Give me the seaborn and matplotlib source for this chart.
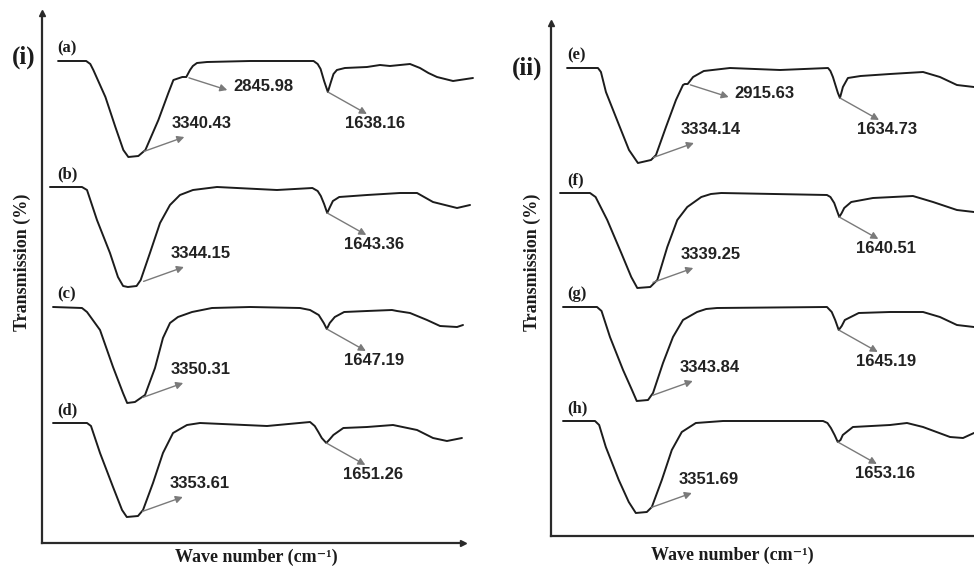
import numpy as np
import matplotlib
matplotlib.use("Agg")
import matplotlib.pyplot as plt
import seaborn as sns

# FTIR spectra: wavenumber (cm-1) and relative transmission for each sample
wn_a = [3940, 3700, 3665, 3639, 3536, 3451, 3383, 3340.43, 3255, 3195, 3084, 2999, 2956, 2880,
        2845.98, 2814, 2790, 2755, 2669, 2302, 1876, 1760, 1725, 1700, 1670, 1638.16, 1612, 1590,
        1561, 1493, 1304, 1193, 1108, 937, 852, 780, 707, 570, 400]
t_a = [100, 100, 97, 91, 64, 34, 11, 4, 5, 11, 41, 68, 81, 84,
       84, 91, 95, 98, 99, 100, 100, 100, 97, 92, 80, 69, 79, 87,
       91, 93, 94, 96, 95, 97, 93, 88, 84, 80, 83]

wn_b = [4009, 3736, 3693, 3608, 3497, 3429, 3385, 3344.15, 3270, 3235, 3156, 3070, 2985, 2900,
        2789, 2584, 2072, 1770, 1725, 1698, 1670, 1643.36, 1620, 1595, 1541, 1304, 1023, 877,
        741, 536, 425]
t_b = [100, 100, 97, 67, 34, 10, 1, 0, 1, 7, 34, 64, 82, 92,
       97, 100, 97, 99, 96, 91, 83, 74, 80, 86, 90, 92, 94, 94,
       85, 79, 82]

wn_c = [3983, 3736, 3693, 3582, 3471, 3386, 3350.31, 3284, 3198, 3113, 3045, 2985, 2917, 2797,
        2627, 2302, 1876, 1790, 1716, 1673, 1647.19, 1622, 1579, 1499, 1304, 1091, 1048, 937,
        792, 681, 536, 485]
t_c = [100, 99, 95, 77, 40, 14, 4, 5, 12, 39, 69, 84, 90, 95,
       99, 100, 99, 97, 92, 84, 78, 84, 90, 95, 96, 97, 96, 94,
       87, 81, 80, 82]

wn_d = [3983, 3693, 3659, 3582, 3471, 3394, 3353.61, 3258, 3215, 3130, 3045, 2959, 2900, 2840,
        2729, 2157, 1790, 1750, 1719, 1690, 1651.26, 1620, 1591, 1506, 1304, 1082, 877, 741,
        622, 494]
t_d = [100, 100, 97, 70, 36, 13, 6, 7, 13, 40, 70, 90, 94, 98,
       100, 97, 101, 97, 91, 85, 80, 84, 88, 95, 96, 98, 93, 85,
       82, 85]

wn_e = [3930, 3670, 3645, 3603, 3493, 3409, 3334.14, 3224, 3182, 3098, 3014, 2955, 2940,
        2915.63, 2870, 2780, 2560, 2139, 1735, 1715, 1694, 1652, 1634.73, 1610, 1568, 1461,
        1214, 936, 794, 651, 508]
t_e = [100, 100, 96, 76, 43, 18, 5, 8, 13, 41, 68, 83, 84,
       84, 91, 97, 100, 98, 100, 97, 91, 75, 70, 81, 90, 92,
       94, 96, 91, 83, 81]

wn_f = [3989, 3737, 3690, 3592, 3474, 3390, 3339.25, 3230, 3171, 3087, 3003, 2919, 2801, 2720,
        2633, 1744, 1715, 1683, 1662, 1640.51, 1620, 1599, 1540, 1357, 1021, 852, 651, 508]
t_f = [100, 100, 96, 73, 40, 16, 5, 6, 13, 46, 73, 86, 96, 99,
       100, 98, 96, 90, 83, 76, 80, 85, 91, 95, 97, 91, 83, 81]

wn_g = [3964, 3678, 3640, 3569, 3459, 3384, 3343.84, 3249, 3207, 3123, 3039, 2955, 2837, 2760,
        2669, 1744, 1704, 1675, 1645.19, 1620, 1594, 1477, 1214, 936, 794, 651, 508]
t_g = [100, 100, 96, 70, 37, 17, 6, 7, 14, 44, 70, 87, 95, 98,
       99, 100, 95, 87, 77, 81, 87, 94, 95, 95, 90, 82, 80]

wn_h = [3964, 3695, 3660, 3604, 3495, 3411, 3351.69, 3259, 3217, 3133, 3049, 2965, 2847, 2618,
        1777, 1740, 1711, 1680, 1653.16, 1630, 1611, 1526, 1214, 1071, 936, 709, 600, 508]
t_h = [100, 100, 96, 74, 41, 19, 8, 9, 14, 41, 71, 89, 98, 100,
       100, 98, 93, 86, 79, 81, 86, 94, 96, 98, 94, 84, 83, 88]

names_i = ["(a)", "(b)", "(c)", "(d)"]
names_ii = ["(e)", "(f)", "(g)", "(h)"]
shoulders = {"(a)": 2845.98, "(e)": 2915.63}

sns.set_theme(style="white")
plt.rcParams["font.family"] = ["Liberation Sans", "DejaVu Sans"]
SERIF = ["Liberation Serif", "DejaVu Serif"]
INK = "#1c1c1c"
GREY = "#7a7a7a"

fig = plt.figure(figsize=(9.74, 5.67), dpi=100)
fig.patch.set_facecolor("white")
ax1 = fig.add_axes([42 / 974, 24 / 567, 421 / 974, 530 / 567])
ax2 = fig.add_axes([551 / 974, 31 / 567, 429 / 974, 513 / 567])

panels = [
    (ax1, names_i, [(wn_a, t_a), (wn_b, t_b), (wn_c, t_c), (wn_d, t_d)],
     [382, 256, 136, 20], (4077, 485), (0, 530)),
    (ax2, names_ii, [(wn_e, t_e), (wn_f, t_f), (wn_g, t_g), (wn_h, t_h)],
     [368, 243, 129, 15], (4065, 457), (0, 513)),
]


def pointer(ax, x, y, head, shrink, txt, ha):
    ax.annotate("", xy=(x, y), xytext=head, textcoords="offset points",
                arrowprops=dict(arrowstyle="<|-,head_length=0.35,head_width=0.18",
                                color=GREY, lw=1.0, shrinkA=0, shrinkB=shrink))
    ax.annotate(f"{x:.2f}", xy=(x, y), xytext=txt, textcoords="offset points",
                ha=ha, va="center", fontsize=12, fontweight="bold", color="#222222")


for ax, names, curves, offsets, xlim, ylim in panels:
    ax.set_xlim(*xlim)
    ax.set_ylim(*ylim)
    for name, (wn, t), off in zip(names, curves, offsets):
        wn = np.asarray(wn, float)
        t = np.asarray(t, float)
        y = t + off
        sns.lineplot(x=wn, y=y, ax=ax, color=INK, lw=1.4, sort=False,
                     estimator=None, clip_on=False, solid_joinstyle="round",
                     solid_capstyle="round")
        # sample tag above the start of each trace
        ax.text(0.037, off + 113, name, transform=ax.get_yaxis_transform(),
                ha="left", va="center", fontsize=12, fontweight="bold",
                family=SERIF, color=INK)
        # O-H stretching band
        i = int(np.argmin(t))
        pointer(ax, wn[i], y[i], (40.3, 14.4), 12.0, (31, 23.8), "left")
        # H-O-H bending band
        low = wn < 2000
        j = np.flatnonzero(low)[int(np.argmin(t[low]))]
        pointer(ax, wn[j], y[j], (28.1, -15.8), 0.0, (33.8, -23.0), "center")
        # C-H stretching shoulder
        if name in shoulders:
            k = int(np.argmin(np.abs(wn - shoulders[name])))
            pointer(ax, wn[k], y[k], (29.5, -9.4), 2.0, (33.8, -6.5), "left")

    ax.set_xticks([])
    ax.set_yticks([])
    ax.set_xlabel("")
    ax.set_ylabel("")
    ax.set_facecolor("white")
    for side in ("top", "right"):
        ax.spines[side].set_visible(False)
    for side in ("left", "bottom"):
        ax.spines[side].set_color("#2a2a2a")
        ax.spines[side].set_linewidth(1.6)
    ax.plot([0], [1], marker="^", ms=5, color="#2a2a2a", transform=ax.transAxes, clip_on=False)
    ax.plot([1], [0], marker=">", ms=5, color="#2a2a2a", transform=ax.transAxes, clip_on=False)

# panel tags and axis titles
fig.text(24 / 974, 1 - 57 / 567, "(i)", ha="center", va="center", fontsize=18,
         fontweight="bold", family=SERIF, color=INK)
fig.text(527 / 974, 1 - 68 / 567, "(ii)", ha="center", va="center", fontsize=18,
         fontweight="bold", family=SERIF, color=INK)
for xc in (22, 532):
    fig.text(xc / 974, 1 - 262 / 567, "Transmission (%)", rotation=90, ha="center",
             va="center", fontsize=13, fontweight="bold", family=SERIF, color=INK)
for xc, yc in ((256, 557), (732, 555)):
    fig.text(xc / 974, 1 - yc / 567, "Wave number (cm\u207b\u00b9)", ha="center",
             va="center", fontsize=13, fontweight="bold", family=SERIF, color=INK)

fig.savefig("out.png", dpi=100, facecolor="white")
